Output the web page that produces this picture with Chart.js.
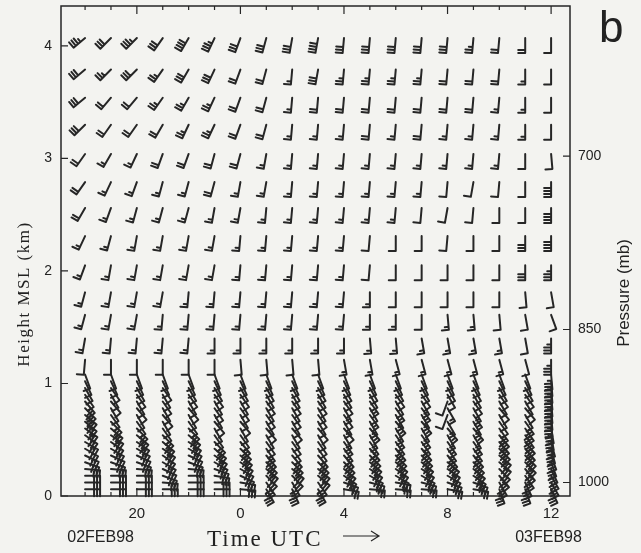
<!DOCTYPE html>
<html>
<head>
<meta charset="utf-8">
<script src="https://cdn.jsdelivr.net/npm/chart.js@4.4.1/dist/chart.umd.min.js"></script>
<style>
  html, body { margin: 0; padding: 0; background: #f3f3f0; }
  #wrap { width: 641px; height: 553px; }
</style>
</head>
<body>
<div id="wrap"><canvas id="windChart" width="641" height="553"></canvas></div>
<script>
// hours since 00 UTC 02FEB98, one profile per hour
const hours = [18, 19, 20, 21, 22, 23, 24, 25, 26, 27, 28, 29, 30, 31, 32, 33, 34, 35, 36];

// high mode gates (km MSL), top to bottom
const upperHeights = [4.07, 3.79, 3.54, 3.30, 3.04, 2.79, 2.56, 2.31, 2.05, 1.81, 1.61, 1.40, 1.21];
// direction (deg, from) per gate row, one value per hour
const upperDir = [
  [230,225,225,215,210,205,200,195,190,190,185,185,185,185,185,185,185,180,180],
  [230,225,225,215,210,205,200,195,185,190,185,185,185,185,185,185,185,180,180],
  [230,220,220,215,210,205,200,195,185,185,185,185,185,185,185,185,185,180,180],
  [225,215,215,210,205,205,200,195,185,185,185,185,185,185,185,185,185,180,180],
  [215,210,205,200,200,195,195,190,185,185,185,185,185,185,185,185,185,180,175],
  [215,205,200,195,195,195,190,190,185,185,185,185,185,185,185,190,185,180,180],
  [210,200,195,195,195,190,190,185,185,185,185,185,185,185,190,185,180,180,180],
  [205,195,190,190,190,190,185,185,185,185,185,185,180,180,185,180,180,180,180],
  [200,190,190,190,190,190,185,185,185,185,185,185,180,180,180,180,180,180,180],
  [195,190,190,190,185,185,185,185,185,185,185,180,180,180,180,180,180,175,170],
  [195,190,190,185,185,185,185,185,185,185,185,180,180,180,175,175,175,170,160],
  [190,185,185,185,185,180,180,180,180,180,180,175,175,170,170,170,170,170,180],
  [185,180,180,180,180,180,175,175,175,175,170,170,165,165,165,165,165,165,180]
];
// speed (kt) per gate row
const upperSpd = [
  [35,30,35,30,40,35,30,30,30,40,30,30,30,30,30,25,20,20,10],
  [30,25,30,25,30,30,20,20,15,30,25,25,25,25,20,20,20,15,10],
  [30,20,20,25,25,25,20,20,15,20,20,20,20,20,20,20,15,15,10],
  [30,20,20,20,25,25,20,20,15,15,15,20,15,20,15,15,15,15,10],
  [20,15,15,20,20,20,20,15,15,15,15,15,15,15,15,15,15,10,10],
  [20,15,15,15,15,20,15,15,15,15,15,15,15,15,10,10,10,10,40],
  [20,15,15,15,15,15,15,15,15,15,15,15,15,10,10,10,10,10,40],
  [15,15,15,15,15,15,15,15,15,15,15,10,10,10,10,10,10,30,40],
  [15,15,15,15,15,15,15,15,15,15,15,10,10,10,10,10,10,30,35],
  [15,15,15,15,15,15,15,15,15,15,15,15,10,10,10,10,10,10,10],
  [15,15,15,15,15,15,15,15,15,15,15,15,15,10,15,15,10,10,10],
  [15,15,15,15,15,15,15,15,15,15,15,15,15,15,15,15,15,10,35],
  [10,10,10,10,10,10,10,10,10,10,15,15,15,15,15,15,15,10,35]
];

// low mode gates (km MSL), bottom to top
const lowerHeights = [0.06, 0.12, 0.18, 0.24, 0.30, 0.36, 0.42, 0.48, 0.54, 0.60, 0.66, 0.72, 0.78, 0.84, 0.90, 0.96, 1.02, 1.08];
// direction per hour (one array per profile, bottom to top)
const lowerDir = [
  [90,90,90,95,110,115,120,120,125,125,130,130,135,140,145,150,155,160],
  [90,90,90,95,110,115,120,125,125,130,135,145,150,140,150,145,155,160],
  [90,90,90,95,110,115,120,125,130,135,145,150,140,150,145,150,155,160],
  [90,95,110,115,120,125,125,130,135,145,150,140,150,145,150,145,155,160],
  [90,90,90,95,110,115,120,125,130,135,145,150,140,150,145,150,155,160],
  [90,90,100,110,120,125,130,135,145,150,140,150,145,150,145,150,155,160],
  [95,100,115,120,125,130,135,140,145,150,140,150,145,150,145,150,155,160],
  [150,145,135,130,135,140,145,145,150,140,150,145,150,145,150,150,155,160],
  [155,150,135,130,135,140,145,145,150,140,150,145,150,145,150,150,155,160],
  [150,145,130,130,135,140,145,145,150,140,150,145,150,145,150,150,155,160],
  [100,110,125,130,135,140,145,145,150,140,150,145,150,145,150,150,155,160],
  [95,105,120,125,130,135,140,145,150,140,150,145,150,145,150,150,155,160],
  [95,100,120,125,130,135,140,145,145,150,140,150,145,150,145,150,155,160],
  [95,105,120,125,130,135,140,145,145,150,140,150,145,150,145,150,155,160],
  [100,110,120,125,130,140,145,145,150,140,150,200,150,200,150,150,155,160],
  [100,110,125,130,135,140,145,145,150,140,150,145,150,145,150,150,155,160],
  [160,150,140,135,130,130,135,140,140,145,145,150,140,150,145,150,155,160],
  [160,155,145,140,135,135,140,140,145,145,145,150,140,150,145,150,155,160],
  [155,150,150,155,160,160,165,165,170,170,175,175,175,175,175,175,175,175]
];
const lowerSpd = [
  [30,30,30,30,30,30,30,30,30,30,35,35,30,25,10,10,10,10],
  [30,30,30,30,30,30,30,30,30,30,25,10,10,10,10,10,10,10],
  [30,30,30,30,30,30,30,30,30,25,10,10,10,10,10,10,10,10],
  [30,30,30,30,30,30,30,30,25,10,10,10,10,10,10,10,10,10],
  [30,30,30,30,30,30,30,30,30,25,10,10,10,10,10,10,10,10],
  [30,30,30,30,30,30,30,25,10,10,10,10,10,10,10,10,10,10],
  [30,30,30,30,30,30,30,25,10,10,10,10,10,10,10,10,10,10],
  [30,30,30,30,30,30,25,10,10,10,10,10,10,10,10,10,10,10],
  [30,30,30,30,30,25,10,10,10,10,10,10,10,10,10,10,10,10],
  [30,30,30,30,30,25,10,10,10,10,10,10,10,10,10,10,10,10],
  [25,25,30,30,30,30,15,15,15,10,15,10,15,10,10,10,10,10],
  [25,30,30,30,30,30,30,15,15,15,15,15,10,15,10,10,10,10],
  [25,30,30,30,30,30,30,25,15,15,15,15,15,10,10,10,10,10],
  [25,30,30,30,30,30,30,25,15,15,15,15,15,15,10,10,10,10],
  [25,30,30,30,30,30,25,15,15,15,15,10,15,10,10,10,10,10],
  [25,30,30,30,30,30,25,15,15,15,15,15,15,10,10,10,10,10],
  [30,30,30,30,30,30,30,30,30,25,10,10,10,10,10,10,10,10],
  [30,30,30,30,30,30,30,30,30,30,25,10,10,10,10,10,10,10],
  [30,30,30,30,30,35,35,35,35,35,35,35,35,35,35,35,35,35]
];

// axes
const xTicks = [20, 24, 28, 32, 36];
const xTickLabels = ["20", "0", "4", "8", "12"];
const yTicks = [0, 1, 2, 3, 4];
const pressureLevels = [700, 850, 1000];
const pressureHeights = [3.02, 1.48, 0.12];
const dateLabels = ["02FEB98", "03FEB98"];

const INK = "#262626";

// Build points
const upperPoints = [];
upperHeights.forEach((h, r) => {
  hours.forEach((t, c) => {
    upperPoints.push({ x: t, y: h, dir: upperDir[r][c], spd: upperSpd[r][c] });
  });
});
const lowerPoints = [];
hours.forEach((t, c) => {
  lowerHeights.forEach((h, g) => {
    lowerPoints.push({ x: t, y: h, dir: lowerDir[c][g], spd: lowerSpd[c][g] });
  });
});

// Draw one wind barb, staff pointing to where the wind comes from
function drawBarb(ctx, x, y, dir, spd) {
  const L = 15, F = 7, S = 3;
  const rad = dir * Math.PI / 180;
  const sx = Math.sin(rad), sy = -Math.cos(rad);
  const fx = Math.cos(rad), fy = Math.sin(rad);
  const ex = x + sx * L, ey = y + sy * L;
  ctx.beginPath();
  ctx.moveTo(x, y);
  ctx.lineTo(ex, ey);
  let rem = Math.round(spd / 5) * 5;
  let pos = 0;
  while (rem >= 10) {
    const bx = ex - sx * pos, by = ey - sy * pos;
    ctx.moveTo(bx, by);
    ctx.lineTo(bx + fx * F, by + fy * F);
    pos += S;
    rem -= 10;
  }
  if (rem >= 5) {
    if (pos === 0) pos = S;
    const bx = ex - sx * pos, by = ey - sy * pos;
    ctx.moveTo(bx, by);
    ctx.lineTo(bx + fx * F * 0.55, by + fy * F * 0.55);
  }
  ctx.stroke();
}

const barbPlugin = {
  id: "barbs",
  afterDatasetsDraw(chart) {
    const ctx = chart.ctx;
    ctx.save();
    ctx.strokeStyle = INK;
    ctx.lineWidth = 2;
    ctx.lineCap = "round";
    ctx.lineJoin = "round";
    chart.data.datasets.forEach((ds, di) => {
      const meta = chart.getDatasetMeta(di);
      meta.data.forEach((el, i) => {
        const p = ds.data[i];
        drawBarb(ctx, el.x, el.y, p.dir, p.spd);
      });
    });
    ctx.restore();
  }
};

const framePlugin = {
  id: "frame",
  afterDraw(chart) {
    const ctx = chart.ctx;
    const a = chart.chartArea;
    const xs = chart.scales.x, ys = chart.scales.y;
    ctx.save();
    ctx.strokeStyle = INK;
    ctx.lineWidth = 1.5;
    ctx.strokeRect(a.left, a.top, a.right - a.left, a.bottom - a.top);

    // inward ticks
    ctx.lineWidth = 1.2;
    ctx.beginPath();
    hours.forEach(t => {
      const px = xs.getPixelForValue(t);
      const len = xTicks.includes(t) ? 8 : 4;
      ctx.moveTo(px, a.top); ctx.lineTo(px, a.top + len);
      ctx.moveTo(px, a.bottom); ctx.lineTo(px, a.bottom - len);
    });
    yTicks.forEach(v => {
      const py = ys.getPixelForValue(v);
      ctx.moveTo(a.left, py); ctx.lineTo(a.left + 7, py);
    });
    pressureHeights.forEach(v => {
      const py = ys.getPixelForValue(v);
      ctx.moveTo(a.right, py); ctx.lineTo(a.right - 7, py);
    });
    ctx.stroke();

    ctx.fillStyle = "#222";
    // left title
    ctx.save();
    ctx.translate(25, 294);
    ctx.rotate(-Math.PI / 2);
    ctx.font = "17px 'Liberation Serif'";
    ctx.letterSpacing = "1.5px";
    ctx.textAlign = "center";
    ctx.textBaseline = "middle";
    ctx.fillText("Height MSL (km)", 0, 0);
    ctx.restore();

    // right title
    ctx.save();
    ctx.translate(624, 293);
    ctx.rotate(-Math.PI / 2);
    ctx.font = "17px 'Liberation Sans'";
    ctx.textAlign = "center";
    ctx.textBaseline = "middle";
    ctx.fillText("Pressure (mb)", 0, 0);
    ctx.restore();

    // bottom title with arrow
    ctx.font = "23px 'Liberation Serif'";
    ctx.letterSpacing = "2px";
    ctx.textAlign = "left";
    ctx.textBaseline = "alphabetic";
    ctx.fillText("Time UTC", 207, 546);
    ctx.letterSpacing = "0px";
    ctx.lineWidth = 1.2;
    ctx.beginPath();
    ctx.moveTo(343, 536); ctx.lineTo(379, 536);
    ctx.moveTo(371, 531); ctx.lineTo(379, 536); ctx.lineTo(371, 541);
    ctx.stroke();

    // dates
    ctx.font = "16px 'Liberation Sans'";
    ctx.textAlign = "center";
    ctx.textBaseline = "middle";
    ctx.fillText(dateLabels[0], xs.getPixelForValue(18.6), 538);
    ctx.fillText(dateLabels[1], xs.getPixelForValue(35.9), 538);

    // panel letter
    ctx.font = "44px 'Liberation Sans'";
    ctx.textAlign = "left";
    ctx.textBaseline = "alphabetic";
    ctx.fillText("b", 599, 42);
    ctx.restore();
  }
};

const tickFont = { family: "'Liberation Sans'", size: 14 };

// keep the plot box where the reference has it
function fixBox(size) {
  return s => {
    if (s.isHorizontal()) s.height = size; else s.width = size;
    s.paddingTop = 0; s.paddingBottom = 0; s.paddingLeft = 0; s.paddingRight = 0;
  };
}

new Chart(document.getElementById("windChart"), {
  type: "scatter",
  data: {
    datasets: [
      { label: "high mode", data: upperPoints, pointRadius: 0, showLine: false },
      { label: "low mode", data: lowerPoints, pointRadius: 0, showLine: false }
    ]
  },
  options: {
    responsive: false,
    animation: false,
    events: [],
    layout: { padding: { top: 6, left: 0, right: 0, bottom: 0 } },
    plugins: { legend: { display: false }, tooltip: { enabled: false } },
    scales: {
      x: {
        type: "linear",
        min: 17.07,
        max: 36.73,
        afterBuildTicks: s => { s.ticks = xTicks.map(v => ({ value: v })); },
        afterFit: fixBox(57),
        grid: { display: false, drawTicks: false },
        border: { display: false },
        ticks: {
          autoSkip: false, maxRotation: 0, padding: 9, color: "#222",
          font: { family: "'Liberation Sans'", size: 15 },
          callback: v => xTickLabels[xTicks.indexOf(v)]
        }
      },
      y: {
        type: "linear",
        position: "left",
        min: 0,
        max: 4.355,
        afterBuildTicks: s => { s.ticks = yTicks.map(v => ({ value: v })); },
        afterFit: fixBox(61),
        grid: { display: false, drawTicks: false },
        border: { display: false },
        ticks: { padding: 9, color: "#222", font: tickFont }
      },
      yP: {
        type: "linear",
        position: "right",
        min: 0,
        max: 4.355,
        afterBuildTicks: s => { s.ticks = pressureHeights.map(v => ({ value: v })); },
        afterFit: fixBox(71),
        grid: { display: false, drawTicks: false },
        border: { display: false },
        ticks: {
          padding: 8, color: "#222", font: tickFont,
          callback: v => String(pressureLevels[pressureHeights.indexOf(v)])
        }
      }
    }
  },
  plugins: [barbPlugin, framePlugin]
});
</script>
</body>
</html>
